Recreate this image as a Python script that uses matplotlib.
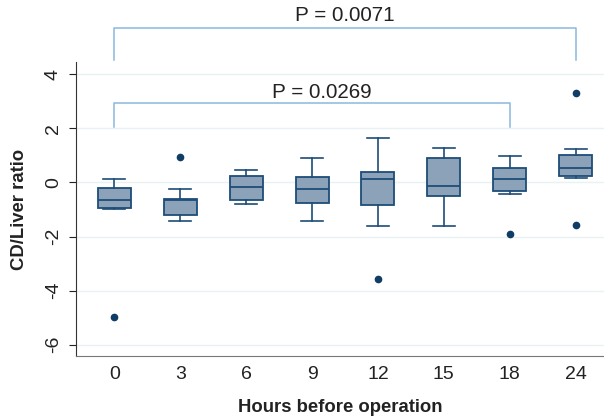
import matplotlib.pyplot as plt

# Box statistics
hours = ['0', '3', '6', '9', '12', '15', '18', '24']
whislo = [-0.98, -1.44, -0.80, -1.42, -1.63, -1.63, -0.43, 0.18]
q1 = [-0.96, -1.20, -0.64, -0.77, -0.85, -0.52, -0.30, 0.24]
med = [-0.65, -0.65, -0.16, -0.26, 0.11, -0.12, 0.11, 0.52]
q3 = [-0.22, -0.63, 0.23, 0.21, 0.37, 0.90, 0.55, 1.01]
whishi = [0.13, -0.26, 0.47, 0.89, 1.63, 1.29, 0.97, 1.22]
fliers = [[-4.97], [0.95], [], [], [-3.59], [], [-1.92], [-1.59, 3.29]]

# significance brackets: (first group, last group, label)
brackets = [(0, 7, 'P = 0.0071'), (0, 6, 'P = 0.0269')]

plt.rcParams['font.family'] = ['Liberation Sans', 'DejaVu Sans']

edge = '#1d4d78'
fill = '#8ca2b8'
bracket_col = '#8ab8e0'

fig = plt.figure(figsize=(6.04, 4.17), dpi=100)
ax = fig.add_axes([0.1253, 0.1463, 0.8747, 0.7047])

stats = []
for i in range(len(hours)):
    stats.append(dict(whislo=whislo[i], q1=q1[i], med=med[i], q3=q3[i],
                      whishi=whishi[i], fliers=fliers[i], label=hours[i]))

ax.bxp(stats, positions=range(len(hours)), widths=0.5, capwidths=0.33,
       patch_artist=True,
       boxprops=dict(facecolor=fill, edgecolor=edge, linewidth=1.3),
       medianprops=dict(color=edge, linewidth=1.3),
       whiskerprops=dict(color=edge, linewidth=1.2),
       capprops=dict(color=edge, linewidth=1.2),
       flierprops=dict(marker='o', markerfacecolor='#0f3d66',
                       markeredgecolor='#0f3d66', markersize=4.5))

ax.set_xlim(-0.586, 7.43)
ax.set_ylim(-6.42, 4.45)
ax.set_yticks([4, 2, 0, -2, -4, -6])
ax.set_yticklabels(['4', '2', '0', '-2', '-4', '-6'], rotation=90, va='center')
ax.yaxis.grid(True, color='#e8f1f3', linewidth=1.0)
ax.set_axisbelow(True)
ax.tick_params(axis='x', length=0, labelsize=14, pad=7, colors='#222222')
ax.tick_params(axis='y', length=5, labelsize=14, pad=5, colors='#222222')
for s in ['top', 'right']:
    ax.spines[s].set_visible(False)
ax.spines['left'].set_color('#333333')
ax.spines['bottom'].set_color('#777777')

ax.set_xlabel('Hours before operation', fontsize=13.3, fontweight='bold',
              labelpad=12, color='#222222')
ax.set_ylabel('CD/Liver ratio', fontsize=13.3, fontweight='bold',
              labelpad=12, color='#222222')

# brackets drawn in data coordinates, allowed outside the axes
levels = [(5.70, 4.52, 6.17, 3.5), (2.92, 2.04, 3.34, 3.15)]
for (a, b, label), (top, low, ty, tx) in zip(brackets, levels):
    ax.plot([a, a, b, b], [low, top, top, low], color=bracket_col,
            linewidth=1.1, clip_on=False)
    ax.text(tx, ty, label, ha='center', va='center', fontsize=14.9,
            color='#222222', clip_on=False)

fig.savefig('out.png', dpi=100)
